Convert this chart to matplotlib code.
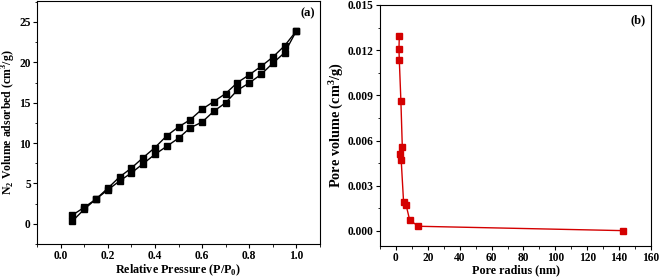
import matplotlib
matplotlib.use("Agg")
import matplotlib.pyplot as plt
from matplotlib.ticker import MultipleLocator

plt.rcParams['font.family'] = ['Liberation Serif', 'DejaVu Serif']
plt.rcParams['font.weight'] = 'bold'
plt.rcParams['mathtext.fontset'] = 'custom'
plt.rcParams['mathtext.rm'] = 'Liberation Serif:bold'
plt.rcParams['mathtext.bf'] = 'Liberation Serif:bold'

# (a) isotherm
p_rel = [0.05, 0.10, 0.15, 0.20, 0.25, 0.30, 0.35, 0.40, 0.45, 0.50,
         0.55, 0.60, 0.65, 0.70, 0.75, 0.80, 0.85, 0.90, 0.95, 1.00]
adsorption = [0.33, 1.8, 3.06, 4.2, 5.3, 6.3, 7.45, 8.6, 9.6, 10.6,
              11.9, 12.6, 13.95, 15.0, 16.55, 17.45, 18.5, 19.9, 21.2, 23.9]
desorption = [1.08, 2.03, 3.06, 4.4, 5.8, 6.9, 8.2, 9.44, 10.9, 12.0,
              12.9, 14.2, 15.15, 16.14, 17.5, 18.46, 19.5, 20.65, 22.06, 23.9]

# (b) pore size distribution
pore_radius = [2.1, 1.9, 2.1, 3.1, 4.0, 2.5, 3.3, 4.8, 6.3, 8.6, 14.0, 142.5]
pore_volume = [0.01292, 0.01206, 0.01137, 0.00865, 0.00555, 0.00509, 0.00469,
               0.0019, 0.00175, 0.00073, 0.00031, 0.00002]

W, H = 660, 280
fig = plt.figure(figsize=(6.6, 2.8), dpi=100)
ax1 = fig.add_axes([37/W, (H-244)/H, (320-37)/W, (244-1)/H])
ax2 = fig.add_axes([380/W, (H-246)/H, (651-380)/W, (246-5)/H])

tfs = 8.3
xfs = 8.7
ax1.plot(p_rel, adsorption, '-s', color='black', lw=1.0, ms=3.8)
ax1.plot(p_rel, desorption, '-s', color='black', lw=1.0, ms=3.8)
ax1.set_xlim(-0.1, 1.1)
ax1.set_ylim(-2.5, 27.6)
ax1.xaxis.set_major_locator(MultipleLocator(0.2))
ax1.xaxis.set_minor_locator(MultipleLocator(0.1))
ax1.yaxis.set_major_locator(MultipleLocator(5))
ax1.yaxis.set_minor_locator(MultipleLocator(2.5))
ax1.set_xlabel('Relative Pressure (P/P$_0$)', fontsize=xfs, fontweight='bold', labelpad=0)
ax1.set_ylabel('N$_2$ Volume adsorbed (cm$^3$/g)', fontsize=8.5, fontweight='bold')
ax1.yaxis.set_label_coords(-0.067, 0.5)
ax1.text(0.982, 0.975, '(a)', transform=ax1.transAxes, ha='right', va='top',
         fontsize=9, fontweight='bold')

red = '#d40000'
ax2.plot(pore_radius, pore_volume, '-s', color=red, lw=1.0, ms=3.8)
ax2.set_xlim(-10, 160)
ax2.set_ylim(-0.001, 0.015)
ax2.xaxis.set_major_locator(MultipleLocator(20))
ax2.xaxis.set_minor_locator(MultipleLocator(10))
ax2.yaxis.set_major_locator(MultipleLocator(0.003))
ax2.yaxis.set_minor_locator(MultipleLocator(0.0015))
ax2.yaxis.set_major_formatter(plt.FormatStrFormatter('%.3f'))
ax2.set_xlabel('Pore radius (nm)', fontsize=xfs, fontweight='bold', labelpad=0)
ax2.set_ylabel('Pore volume (cm$^3$/g)', fontsize=10.3, fontweight='bold')
ax2.yaxis.set_label_coords(-0.128, 0.5)
ax2.text(0.982, 0.96, '(b)', transform=ax2.transAxes, ha='right', va='top',
         fontsize=9, fontweight='bold')

for ax in (ax1, ax2):
    ax.tick_params(which='major', direction='out', length=3, width=0.8,
                   labelsize=tfs, pad=1.5)
    ax.tick_params(which='minor', direction='out', length=1.8, width=0.6)
    for s in ax.spines.values():
        s.set_linewidth(0.8)
    for lab in ax.get_xticklabels() + ax.get_yticklabels():
        lab.set_fontweight('bold')

fig.savefig('out.png', dpi=100)
